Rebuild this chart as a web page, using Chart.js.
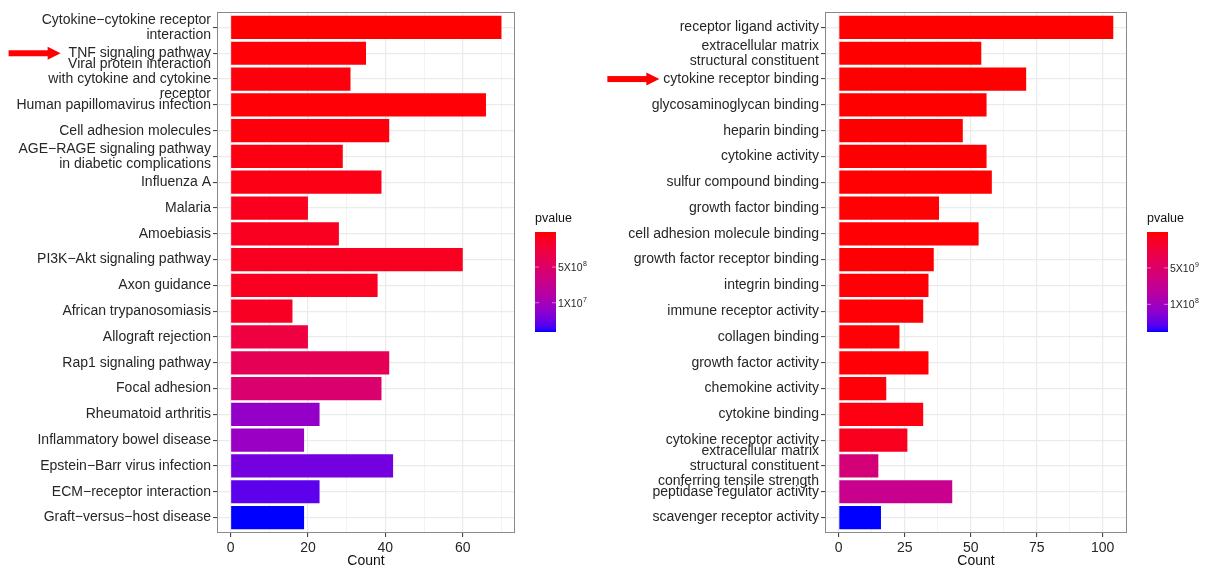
<!DOCTYPE html>
<html>
<head>
<meta charset="utf-8">
<script src="https://cdn.jsdelivr.net/npm/chart.js@4.4.1/dist/chart.umd.min.js"></script>
<style>
  html, body { margin: 0; padding: 0; background: #fff; }
  #wrap { position: relative; width: 1205px; height: 570px; }
  #left { position: absolute; left: 0; top: 0; }
  #right { position: absolute; left: 600px; top: 0; }
</style>
</head>
<body>
<div id="wrap">
  <canvas id="left" width="600" height="570"></canvas>
  <canvas id="right" width="605" height="570"></canvas>
</div>
<script>
// ---- left panel: KEGG pathways ----
const keggTerms = [
  ["Cytokine\u2212cytokine receptor", "interaction"],
  "TNF signaling pathway",
  ["Viral protein interaction", "with cytokine and cytokine", "receptor"],
  "Human papillomavirus infection",
  "Cell adhesion molecules",
  ["AGE\u2212RAGE signaling pathway", "in diabetic complications"],
  "Influenza A",
  "Malaria",
  "Amoebiasis",
  "PI3K\u2212Akt signaling pathway",
  "Axon guidance",
  "African trypanosomiasis",
  "Allograft rejection",
  "Rap1 signaling pathway",
  "Focal adhesion",
  "Rheumatoid arthritis",
  "Inflammatory bowel disease",
  "Epstein\u2212Barr virus infection",
  "ECM\u2212receptor interaction",
  "Graft\u2212versus\u2212host disease"
];
const keggCounts = [70, 35, 31, 66, 41, 29, 39, 20, 28, 60, 38, 16, 20, 41, 39, 23, 19, 42, 23, 19];
const keggPvalues = [8.5e-10, 2.2e-9, 3.6e-9, 2.2e-9, 3.6e-9, 5.1e-9, 6.5e-9, 9.3e-9, 1.07e-8, 1.07e-8,
                     1.07e-8, 1.2e-8, 2.75e-8, 3.9e-8, 5.4e-8, 1.09e-7, 1.06e-7, 1.23e-7, 1.30e-7, 1.41e-7];
const keggTicks = [0, 20, 40, 60];
const keggMinorTicks = [10, 30, 50, 70];
const keggLegendTicks = [5e-8, 1e-7];
const keggLegendLabels = [["5X10", "8"], ["1X10", "7"]];

// ---- right panel: GO molecular function ----
const goTerms = [
  "receptor ligand activity",
  ["extracellular matrix", "structural constituent"],
  "cytokine receptor binding",
  "glycosaminoglycan binding",
  "heparin binding",
  "cytokine activity",
  "sulfur compound binding",
  "growth factor binding",
  "cell adhesion molecule binding",
  "growth factor receptor binding",
  "integrin binding",
  "immune receptor activity",
  "collagen binding",
  "growth factor activity",
  "chemokine activity",
  "cytokine binding",
  "cytokine receptor activity",
  ["extracellular matrix", "structural constituent", "conferring tensile strength"],
  "peptidase regulator activity",
  "scavenger receptor activity"
];
const goCounts = [104, 54, 71, 56, 47, 56, 58, 38, 53, 36, 34, 32, 23, 34, 18, 32, 26, 15, 43, 16];
const goPvalues = [7e-11, 8e-11, 9e-11, 1.0e-10, 1.1e-10, 1.2e-10, 1.3e-10, 1.4e-10, 1.5e-10, 1.6e-10,
                   1.7e-10, 1.8e-10, 1.9e-10, 2.0e-10, 2.3e-10, 4.5e-10, 9.5e-10, 5.9e-9, 7.2e-9, 1.38e-8];
const goTicks = [0, 25, 50, 75, 100];
const goMinorTicks = [12.5, 37.5, 62.5, 87.5];
const goLegendTicks = [5e-9, 1e-8];
const goLegendLabels = [["5X10", "9"], ["1X10", "8"]];

const FONT = "'Liberation Sans', Arial, Helvetica, sans-serif";
const TEXT = '#262626';

// red -> blue ramp in CIELAB, like ggplot's scale_fill_gradient
function toLab(r, g, b) {
  const lin = c => { c /= 255; return c <= 0.04045 ? c / 12.92 : Math.pow((c + 0.055) / 1.055, 2.4); };
  r = lin(r); g = lin(g); b = lin(b);
  const X = (0.4124 * r + 0.3576 * g + 0.1805 * b) / 0.95047;
  const Y = 0.2126 * r + 0.7152 * g + 0.0722 * b;
  const Z = (0.0193 * r + 0.1192 * g + 0.9505 * b) / 1.08883;
  const f = t => t > 0.008856 ? Math.cbrt(t) : 7.787 * t + 16 / 116;
  return [116 * f(Y) - 16, 500 * (f(X) - f(Y)), 200 * (f(Y) - f(Z))];
}
function fromLab(L, a, b) {
  const fy = (L + 16) / 116, fx = fy + a / 500, fz = fy - b / 200;
  const inv = t => t > 0.206893 ? t * t * t : (t - 16 / 116) / 7.787;
  const X = inv(fx) * 0.95047, Y = inv(fy), Z = inv(fz) * 1.08883;
  const gam = c => {
    c = c <= 0.0031308 ? 12.92 * c : 1.055 * Math.pow(c, 1 / 2.4) - 0.055;
    return Math.round(Math.min(1, Math.max(0, c)) * 255);
  };
  return 'rgb(' + gam(3.2406 * X - 1.5372 * Y - 0.4986 * Z) + ',' +
    gam(-0.9689 * X + 1.8758 * Y + 0.0415 * Z) + ',' +
    gam(0.0557 * X - 0.2040 * Y + 1.0570 * Z) + ')';
}
const lowLab = toLab(255, 0, 0), highLab = toLab(0, 0, 255);
function ramp(t) {
  return fromLab(lowLab[0] + (highLab[0] - lowLab[0]) * t,
                 lowLab[1] + (highLab[1] - lowLab[1]) * t,
                 lowLab[2] + (highLab[2] - lowLab[2]) * t);
}

// panel frame like theme_bw
const panelBorder = {
  id: 'panelBorder',
  afterDraw(chart) {
    const { ctx, chartArea: a } = chart;
    ctx.save();
    ctx.strokeStyle = '#8a8a8a';
    ctx.lineWidth = 1;
    ctx.strokeRect(a.left + 0.5, a.top + 0.5, a.right - a.left - 1, a.bottom - a.top - 1);
    ctx.restore();
  }
};

// continuous colour legend
const colorbar = {
  id: 'colorbar',
  afterDraw(chart, args, o) {
    const { ctx, chartArea: a } = chart;
    const x = a.right + 20, top = 232, w = 21, h = 100;
    ctx.save();
    ctx.fillStyle = '#111';
    ctx.font = '12.5px ' + FONT;
    ctx.textBaseline = 'alphabetic';
    ctx.fillText('pvalue', x, 222);
    for (let i = 0; i < h; i++) {
      ctx.fillStyle = ramp(i / (h - 1));
      ctx.fillRect(x, top + i, w, 1);
    }
    o.ticks.forEach((v, i) => {
      const y = top + (v - o.min) / (o.max - o.min) * h;
      ctx.strokeStyle = 'rgba(255,255,255,0.8)';
      ctx.lineWidth = 0.6;
      ctx.beginPath();
      ctx.moveTo(x, y); ctx.lineTo(x + 4, y);
      ctx.moveTo(x + w - 4, y); ctx.lineTo(x + w, y);
      ctx.stroke();
      const [base, exp] = o.labels[i];
      ctx.fillStyle = TEXT;
      ctx.textBaseline = 'middle';
      ctx.font = '10.5px ' + FONT;
      ctx.fillText(base, x + w + 2, y + 1);
      const bw = ctx.measureText(base).width;
      ctx.font = '7px ' + FONT;
      ctx.fillText(exp, x + w + 2.5 + bw, y - 3);
    });
    ctx.restore();
  }
};

// red arrow pointing at one term
const arrow = {
  id: 'arrow',
  afterDraw(chart, args, o) {
    const { ctx, chartArea: a } = chart;
    const y = chart.scales.y.getPixelForTick(o.index);
    ctx.save();
    ctx.font = '14px ' + FONT;
    const tw = ctx.measureText(chart.data.labels[o.index]).width;
    const tip = a.left - 6 - tw - o.gap;
    ctx.fillStyle = '#ff0000';
    ctx.fillRect(tip - 52, y - 3, 40, 6);
    ctx.beginPath();
    ctx.moveTo(tip - 13, y - 6.5);
    ctx.lineTo(tip, y);
    ctx.lineTo(tip - 13, y + 6.5);
    ctx.closePath();
    ctx.fill();
    ctx.restore();
  }
};

function makeChart(id, opt) {
  const pmin = Math.min(...opt.pvalues), pmax = Math.max(...opt.pvalues);
  const colors = opt.pvalues.map(p => ramp((p - pmin) / (pmax - pmin)));
  const isMajor = v => opt.major.includes(v);
  return new Chart(document.getElementById(id), {
    type: 'bar',
    data: {
      labels: opt.labels,
      datasets: [{
        data: opt.counts,
        backgroundColor: colors,
        borderWidth: 0,
        barPercentage: 0.9,
        categoryPercentage: 1
      }]
    },
    options: {
      indexAxis: 'y',
      responsive: false,
      animation: false,
      layout: { padding: { top: 12, right: opt.padRight, left: 0, bottom: 0 } },
      plugins: {
        legend: { display: false },
        tooltip: { enabled: false },
        colorbar: { min: pmin, max: pmax, ticks: opt.legendTicks, labels: opt.legendLabels },
        arrow: { index: opt.arrowIndex, gap: opt.arrowGap }
      },
      scales: {
        x: {
          type: 'linear',
          min: opt.xmin,
          max: opt.xmax,
          afterBuildTicks: s => {
            s.ticks = opt.major.concat(opt.minor).sort((p, q) => p - q).map(v => ({ value: v }));
          },
          afterFit: s => { s.height = 37; },
          ticks: {
            autoSkip: false, maxRotation: 0, padding: 3, color: TEXT,
            font: { family: FONT, size: 14 },
            callback: v => isMajor(v) ? String(v) : ''
          },
          grid: {
            color: '#ebebeb',
            lineWidth: c => isMajor(c.tick.value) ? 1.2 : 0.6,
            tickLength: 4,
            tickWidth: 1,
            tickColor: c => isMajor(c.tick.value) ? '#333' : 'rgba(0,0,0,0)'
          },
          border: { display: false },
          title: { display: true, text: 'Count', color: '#111', padding: 0, font: { family: FONT, size: 14 } }
        },
        y: {
          // ggplot pads a discrete axis by 0.6 of a category on each end
          afterBuildTicks: s => {
            s._startValue = -0.6;
            s._valueRange = s.ticks.length - 1 + 1.2;
          },
          afterFit: s => { s.width = opt.axisWidth; },
          ticks: {
            autoSkip: false, padding: 2, color: TEXT,
            font: { family: FONT, size: 14, lineHeight: 1.07 }
          },
          grid: { offset: false, color: '#ebebeb', lineWidth: 1.2, tickLength: 4, tickWidth: 1, tickColor: '#333' },
          border: { display: false }
        }
      }
    },
    plugins: [panelBorder, colorbar, arrow]
  });
}

makeChart('left', {
  labels: keggTerms, counts: keggCounts, pvalues: keggPvalues,
  major: keggTicks, minor: keggMinorTicks, xmin: -3.5, xmax: 73.5,
  legendTicks: keggLegendTicks, legendLabels: keggLegendLabels,
  axisWidth: 217, padRight: 85, arrowIndex: 1, arrowGap: 8
});

makeChart('right', {
  labels: goTerms, counts: goCounts, pvalues: goPvalues,
  major: goTicks, minor: goMinorTicks, xmin: -5.2, xmax: 109.2,
  legendTicks: goLegendTicks, legendLabels: goLegendLabels,
  axisWidth: 225, padRight: 78, arrowIndex: 2, arrowGap: 4
});
</script>
</body>
</html>
